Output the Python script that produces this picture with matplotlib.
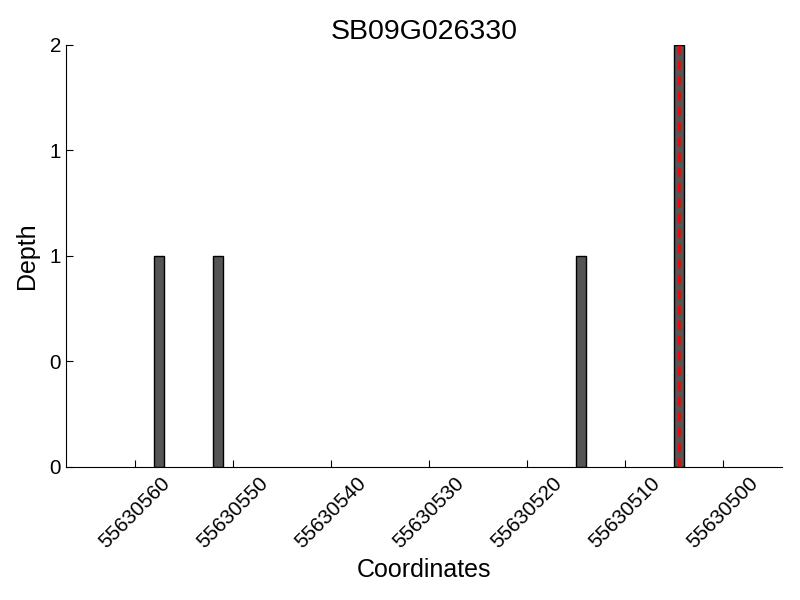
import matplotlib
matplotlib.use("Agg")
import matplotlib.pyplot as plt
from matplotlib.ticker import FormatStrFormatter

plt.rcParams['font.family'] = ['Liberation Sans', 'DejaVu Sans']

gene = "SB09G026330"
positions = [55630557, 55630551, 55630514, 55630504]
depths = [1, 1, 1, 2]
marker_pos = 55630504.5
xticks = [55630560, 55630550, 55630540, 55630530, 55630520, 55630510, 55630500]

fig = plt.figure(figsize=(8, 6), dpi=100)
ax = fig.add_axes([0.0825, 0.2217, 0.895, 0.7033])

ax.bar(positions, depths, width=1, align='edge', color='#555555',
       edgecolor='black', linewidth=1)
ax.axvline(marker_pos, color='red', linestyle=(0, (3, 2)), linewidth=2.2)

ax.set_xlim(55630567, 55630494)
ax.set_ylim(0, 2)
ax.set_xticks(xticks)
ax.set_xticklabels([str(t) for t in xticks], rotation=45, ha='center')
ax.set_yticks([0, 0.5, 1, 1.5, 2])
ax.yaxis.set_major_formatter(FormatStrFormatter('%d'))
ax.tick_params(direction='in', length=5, labelsize=14.8)
ax.tick_params(axis='x', pad=5)

ax.spines['top'].set_visible(False)
ax.spines['right'].set_visible(False)

ax.set_title(gene, fontsize=20.5, pad=4)
ax.set_xlabel("Coordinates", fontsize=18, labelpad=4)
ax.set_ylabel("Depth", fontsize=18, labelpad=8)

fig.savefig("out.png", dpi=100)
